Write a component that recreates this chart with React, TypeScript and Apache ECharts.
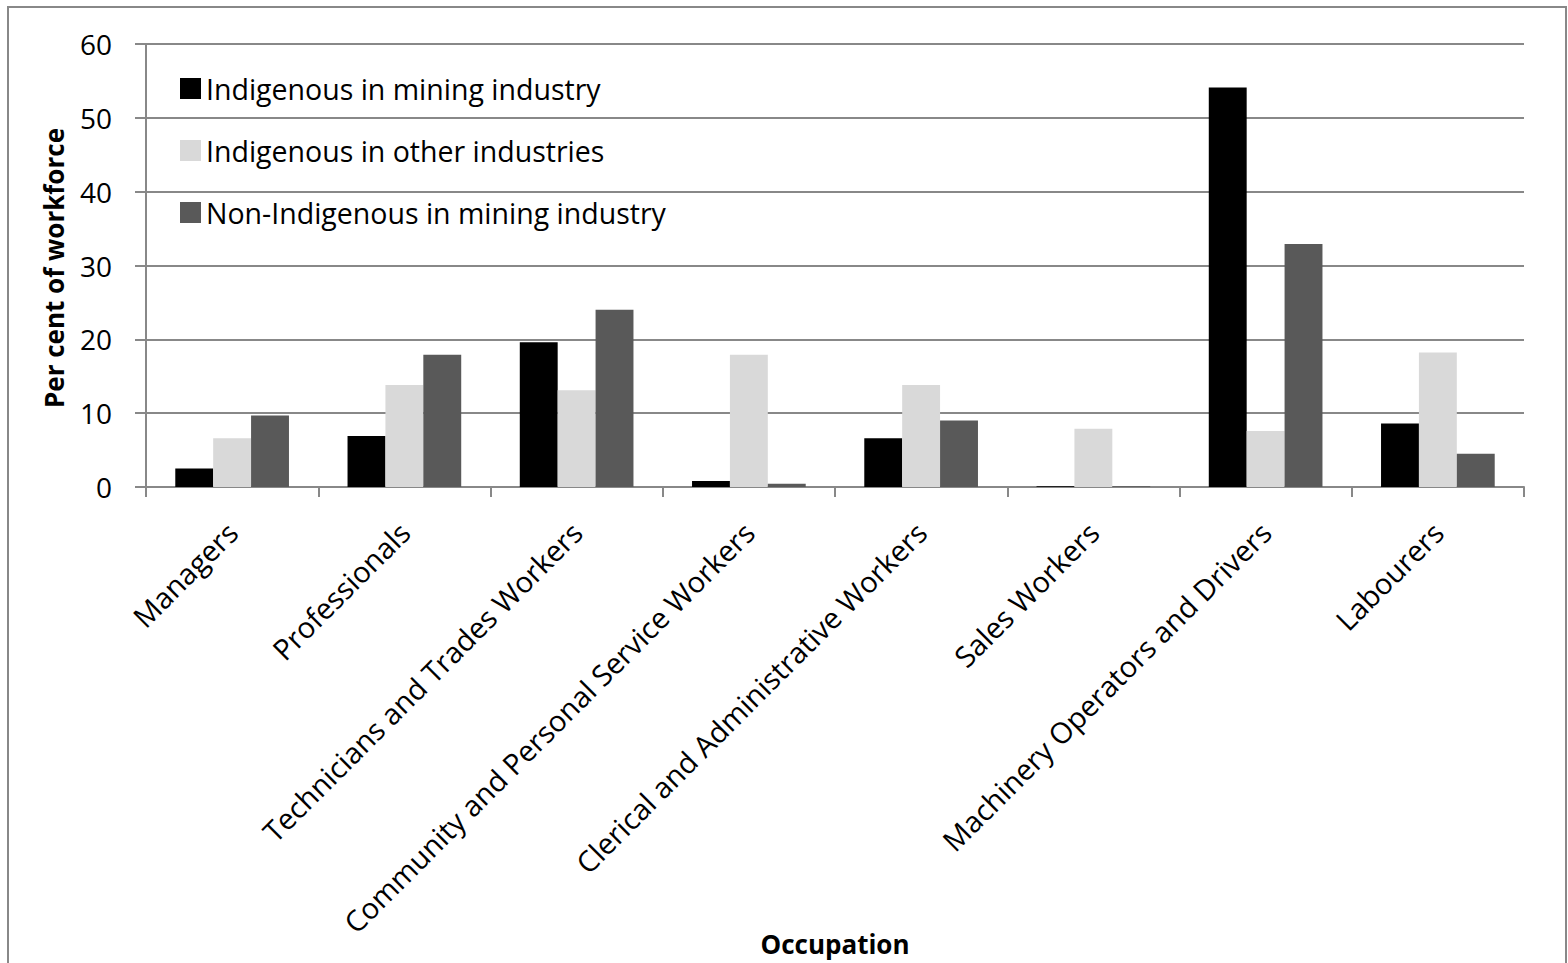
import React, { useEffect, useRef } from "react";
import * as echarts from "echarts";

const categories = [
  "Managers",
  "Professionals",
  "Technicians and Trades Workers",
  "Community and Personal Service Workers",
  "Clerical and Administrative Workers",
  "Sales Workers",
  "Machinery Operators and Drivers",
  "Labourers",
];
const indigenousMining = [2.5, 6.9, 19.6, 0.8, 6.6, 0.1, 54.1, 8.6];
const indigenousOther = [6.6, 13.8, 13.1, 17.9, 13.8, 7.9, 7.6, 18.2];
const nonIndigenousMining = [9.7, 17.9, 24.0, 0.45, 9.0, 0.1, 32.9, 4.5];
const seriesNames = [
  "Indigenous in mining industry",
  "Indigenous in other industries",
  "Non-Indigenous in mining industry",
];
const yTicks = [0, 10, 20, 30, 40, 50, 60];
const colors = ["#000000", "#d9d9d9", "#595959"];
const FONT = "'Open Sans', 'Noto Sans', sans-serif";

export default function App() {
  const ref = useRef<HTMLDivElement>(null);
  useEffect(() => {
    document.body.style.margin = "0";
    document.body.style.overflow = "hidden";
    const chart = echarts.init(ref.current!, null, { renderer: "svg" });
    const gridColor = "#888888";
    chart.setOption({
      animation: false,
      textStyle: { fontFamily: FONT },
      grid: { left: 146, top: 44, right: 44, bottom: 476, containLabel: false },
      legend: {
        orient: "vertical",
        left: 175,
        top: 69,
        itemWidth: 21,
        itemHeight: 21,
        itemGap: 33,
        icon: "rect",
        textStyle: { fontSize: 28.5, lineHeight: 28, color: "#000", fontFamily: FONT },
        data: seriesNames,
      },
      xAxis: {
        type: "category",
        data: categories,
        axisLine: { lineStyle: { color: gridColor, width: 2 } },
        axisTick: { show: true, length: 10, interval: 0, lineStyle: { color: gridColor, width: 2 } },
        axisLabel: {
          interval: 0,
          rotate: 45,
          fontSize: 29,
          color: "#000",
          margin: 40,
          fontFamily: FONT,
        },
      },
      yAxis: {
        type: "value",
        min: yTicks[0],
        max: yTicks[yTicks.length - 1],
        interval: 10,
        axisLine: { show: true, lineStyle: { color: gridColor, width: 2 } },
        axisTick: { show: true, length: 11, lineStyle: { color: gridColor, width: 2 } },
        splitLine: { lineStyle: { color: gridColor, width: 2 } },
        axisLabel: { fontSize: 28, color: "#000", margin: 34, fontFamily: FONT },
      },
      graphic: [
        {
          type: "rect",
          x: 8,
          y: 7,
          shape: { width: 1558, height: 1000 },
          style: { fill: "none", stroke: "#888", lineWidth: 2 },
          silent: true,
        },
        {
          type: "text",
          x: 54,
          y: 268,
          rotation: Math.PI / 2,
          style: {
            text: "Per cent of workforce",
            font: `bold 26px ${FONT}`,
            fill: "#000",
            align: "center",
            verticalAlign: "middle",
          },
        },
        {
          type: "text",
          x: 835,
          y: 944,
          style: {
            text: "Occupation",
            font: `bold 26px ${FONT}`,
            fill: "#000",
            align: "center",
            verticalAlign: "middle",
          },
        },
      ],
      series: [indigenousMining, indigenousOther, nonIndigenousMining].map((d, i) => ({
        name: seriesNames[i],
        type: "bar",
        data: d,
        barGap: "0%",
        barCategoryGap: "34%",
        itemStyle: { color: colors[i] },
      })),
    });
    return () => chart.dispose();
  }, []);
  return <div ref={ref} style={{ width: 1568, height: 963, background: "#fff" }} />;
}
